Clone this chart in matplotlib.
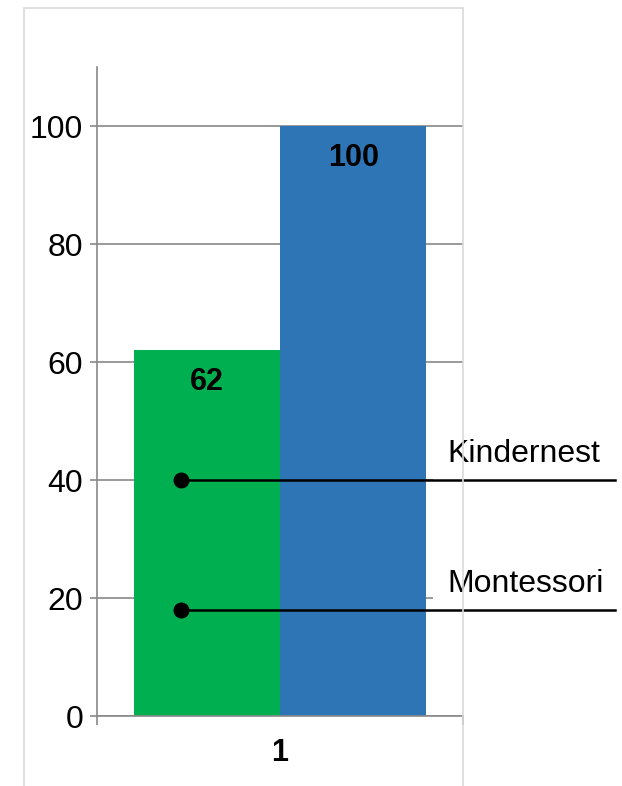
import matplotlib
matplotlib.use("Agg")
import matplotlib.pyplot as plt
import matplotlib.transforms as mtransforms
from matplotlib.patches import Rectangle

plt.rcParams['font.family'] = ['Liberation Sans', 'DejaVu Sans']

# chart data
categories = ['1']
series_names = ['Montessori', 'Kindernest']
series_values = [62, 100]
series_colors = ['#00b050', '#2e75b6']
yticks = [0, 20, 40, 60, 80, 100]
# callout labels and the value each pointer sits on
callout_names = ['Kindernest', 'Montessori']
callout_values = [40, 18]

grid_gray = '#898989'

fig = plt.figure(figsize=(6.22, 7.86), dpi=100)

# light frame around the chart area
frame = Rectangle((24 / 622, -0.01), (463 - 24) / 622, (786 - 8) / 786 + 0.01,
                  transform=fig.transFigure, fill=False, edgecolor='#d9d9d9',
                  linewidth=1.2, zorder=0)
fig.patches.append(frame)

ax = fig.add_axes([97 / 622, 70 / 786, 366 / 622, 649 / 786])
ax.patch.set_alpha(0)

width = 0.4
offsets = [-width / 2, width / 2]
for name, val, col, off in zip(series_names, series_values, series_colors, offsets):
    x = 1 + off
    ax.bar(x, val, width=width, color=col, zorder=2, label=name)
    ax.annotate(f'{val}', xy=(x, val), xytext=(0, -23), textcoords='offset points',
                ha='center', va='center', fontsize=22, fontweight='bold', zorder=5)

ax.set_xlim(0.5, 1.5)
ax.set_ylim(0, 110)
ax.set_yticks(yticks)
ax.yaxis.grid(True, color=grid_gray, linewidth=1.2, zorder=1)
ax.set_axisbelow(True)

for s in ['top', 'right']:
    ax.spines[s].set_visible(False)
for s in ['left', 'bottom']:
    ax.spines[s].set_color(grid_gray)
    ax.spines[s].set_linewidth(1.2)

ax.tick_params(axis='y', direction='out', length=5, width=1.2, color=grid_gray,
               pad=5, labelsize=23)
ax.set_xticks([1])
ax.set_xticklabels(categories, fontsize=22, fontweight='bold')
ax.tick_params(axis='x', which='major', length=0, pad=16)
ax.set_xticks([0.5, 1.5], minor=True)
ax.tick_params(axis='x', which='minor', direction='out', length=6.5, width=1.2,
               color=grid_gray)

# pointer lines running out to the right with their labels
blend = mtransforms.blended_transform_factory(ax.transAxes, ax.transData)
for name, val in zip(callout_names, callout_values):
    ax.plot([0.2295, 1.415], [val, val], color='black', linewidth=1.8,
            transform=blend, clip_on=False, zorder=6)
    ax.plot([0.2295], [val], 'o', color='black', markersize=10.5,
            transform=blend, clip_on=False, zorder=6)
    ax.annotate(name, xy=(0.956, val), xycoords=blend, xytext=(0, 13),
                textcoords='offset points', ha='left', va='baseline',
                fontsize=23, annotation_clip=False, zorder=4,
                bbox=dict(boxstyle='square,pad=0.42', facecolor='white',
                          edgecolor='none'))

fig.savefig('out.png', dpi=100)
